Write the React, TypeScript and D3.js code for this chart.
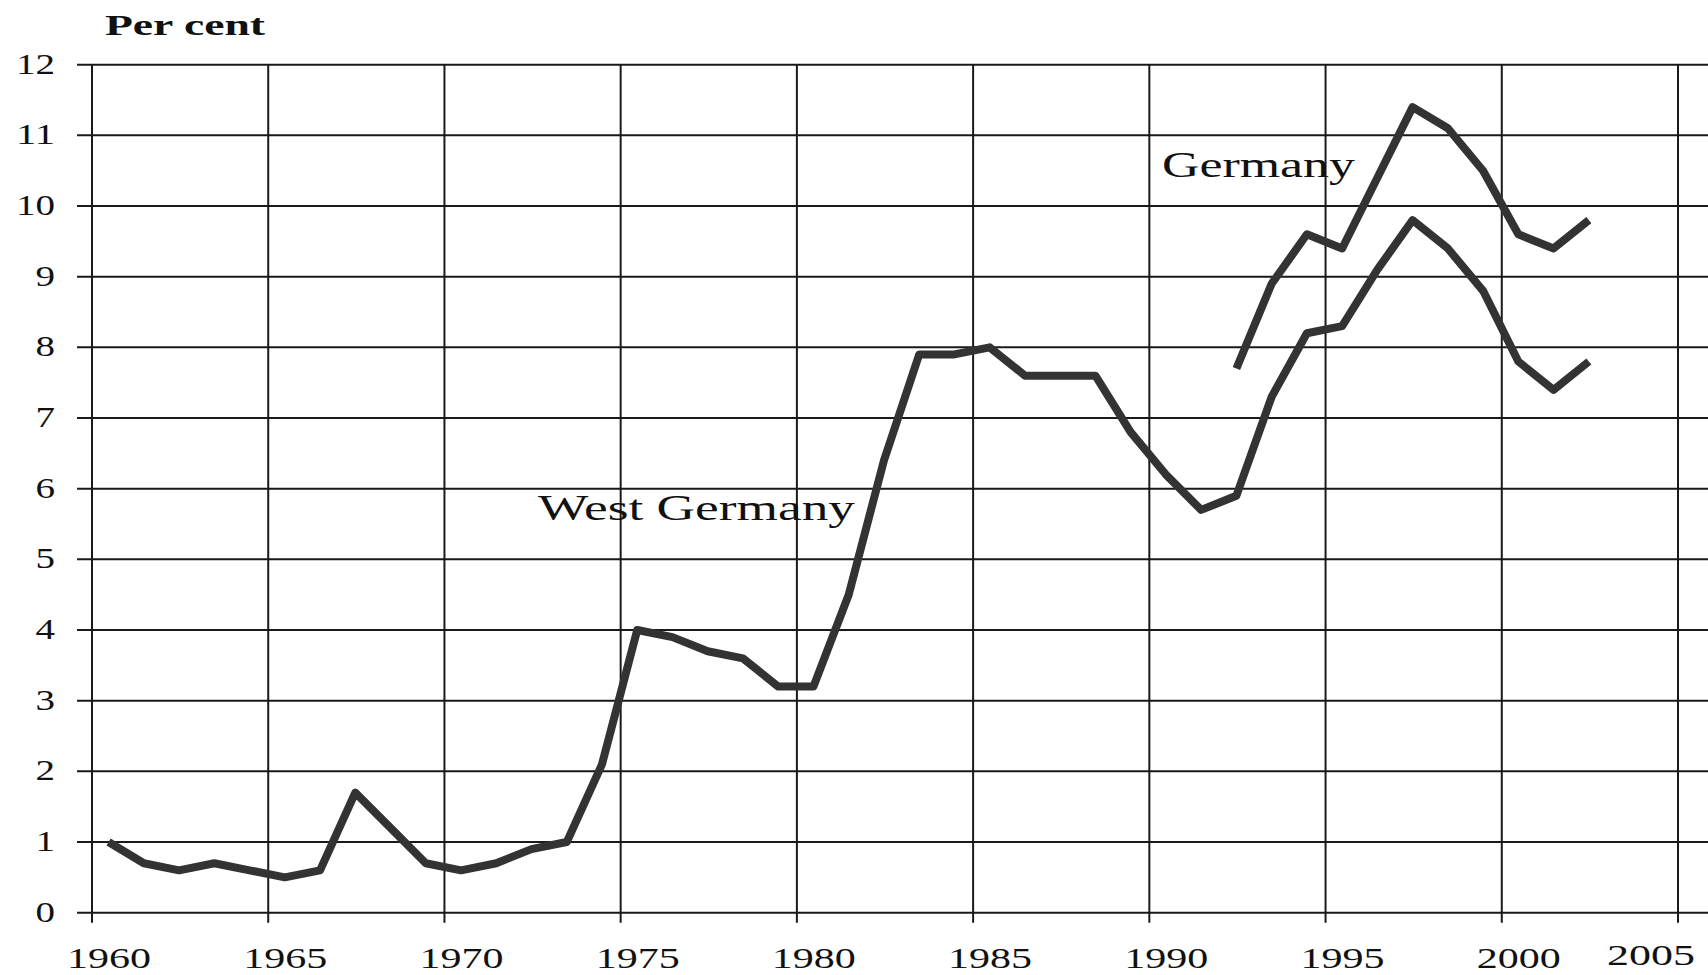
import React from "react";
import * as d3 from "d3";

const westYears = d3.range(1960, 2003);
const westValues = [
  1.0, 0.7, 0.6, 0.7, 0.6, 0.5, 0.6, 1.7, 1.2, 0.7,
  0.6, 0.7, 0.9, 1.0, 2.1, 4.0, 3.9, 3.7, 3.6, 3.2,
  3.2, 4.5, 6.4, 7.9, 7.9, 8.0, 7.6, 7.6, 7.6, 6.8,
  6.2, 5.7, 5.9, 7.3, 8.2, 8.3, 9.1, 9.8, 9.4, 8.8,
  7.8, 7.4, 7.8,
];
const germanyYears = d3.range(1992, 2003);
const germanyValues = [7.7, 8.9, 9.6, 9.4, 10.4, 11.4, 11.1, 10.5, 9.6, 9.4, 9.8];

const xTicks = [1960, 1965, 1970, 1975, 1980, 1985, 1990, 1995, 2000, 2005];
const yTicks = [0, 1, 2, 3, 4, 5, 6, 7, 8, 9, 10, 11, 12];

const yAxisTitle = "Per cent";
const westLabel = "West Germany";
const germanyLabel = "Germany";

const W = 1708;
const H = 975;
const FONT = "'Liberation Serif', 'Times New Roman', serif";

export default function App() {
  const x = d3.scaleLinear().domain([1960, 2005]).range([92, 1678]);
  const y = d3.scaleLinear().domain([0, 12]).range([912.7, 64.7]);
  const off = 0.47;

  const line = d3
    .line<[number, number]>()
    .x((d) => x(d[0] + off))
    .y((d) => y(d[1]));

  const westPts: [number, number][] = westYears.map((yr, i) => [yr, westValues[i]]);
  const gerPts: [number, number][] = germanyYears.map((yr, i) => [yr, germanyValues[i]]);

  const gridColor = "#1a1a1a";
  const lineColor = "#333333";

  return (
    <svg
      width={W}
      height={H}
      style={{ position: "absolute", left: 0, top: 0, background: "#fff" }}
    >
      <rect x={0} y={0} width={W} height={H} fill="#fff" />
      {/* horizontal gridlines */}
      {yTicks.map((t) => (
        <line
          key={"h" + t}
          x1={77}
          x2={W}
          y1={y(t)}
          y2={y(t)}
          stroke={gridColor}
          strokeWidth={2}
        />
      ))}
      {/* vertical gridlines */}
      {xTicks.map((t) => (
        <line
          key={"v" + t}
          x1={x(t)}
          x2={x(t)}
          y1={y(12)}
          y2={y(0) + 10}
          stroke={gridColor}
          strokeWidth={2}
        />
      ))}
      {/* y tick labels */}
      {yTicks.map((t) => {
        const s = String(t);
        return (
          <text
            key={"yl" + t}
            x={55}
            y={y(t) + 9}
            textAnchor="end"
            fontFamily={FONT}
            fontSize={29.5}
            fill="#111"
            textLength={s.length * 19.5}
            lengthAdjust="spacingAndGlyphs"
          >
            {s}
          </text>
        );
      })}
      {/* x tick labels */}
      {xTicks.map((t) => {
        const s = String(t);
        const last = t === 2005;
        const cx = last ? 1651 : x(t) + 17;
        return (
          <text
            key={"xl" + t}
            x={cx}
            y={last ? y(0) + 52 : y(0) + 55}
            textAnchor="middle"
            fontFamily={FONT}
            fontSize={29.5}
            fill="#111"
            textLength={last ? 88 : 84}
            lengthAdjust="spacingAndGlyphs"
          >
            {s}
          </text>
        );
      })}
      {/* title */}
      <text
        x={105}
        y={35}
        fontFamily={FONT}
        fontWeight="bold"
        fontSize={30}
        fill="#111"
        textLength={160}
        lengthAdjust="spacingAndGlyphs"
      >
        {yAxisTitle}
      </text>
      {/* series */}
      <path
        d={line(westPts) || ""}
        fill="none"
        stroke={lineColor}
        strokeWidth={8}
        strokeLinejoin="round"
        strokeLinecap="butt"
      />
      <path
        d={line(gerPts) || ""}
        fill="none"
        stroke={lineColor}
        strokeWidth={8}
        strokeLinejoin="round"
        strokeLinecap="butt"
      />
      {/* annotations */}
      <text
        x={538}
        y={520}
        fontFamily={FONT}
        fontSize={35}
        fill="#111"
        textLength={317}
        lengthAdjust="spacingAndGlyphs"
      >
        {westLabel}
      </text>
      <text
        x={1162}
        y={177}
        fontFamily={FONT}
        fontSize={35}
        fill="#111"
        textLength={193}
        lengthAdjust="spacingAndGlyphs"
      >
        {germanyLabel}
      </text>
    </svg>
  );
}
